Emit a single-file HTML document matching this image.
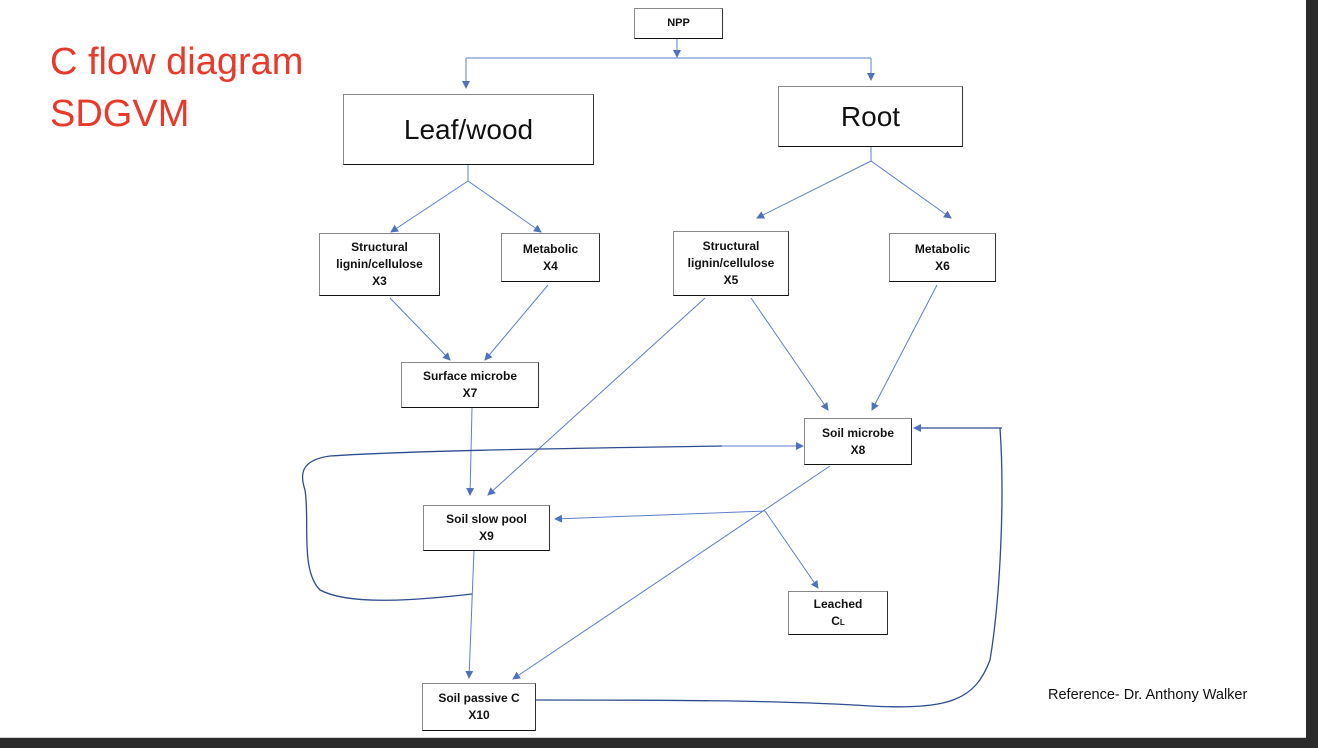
<!DOCTYPE html>
<html><head><meta charset="utf-8"><style>
html,body{margin:0;padding:0;}
body{width:1318px;height:748px;position:relative;background:#2b2b2b;overflow:hidden;font-family:"Liberation Sans",sans-serif;}
#pg{position:absolute;left:0;top:0;width:1306px;height:737px;background:#fff;border-bottom:1px solid #ccc;}
.b{position:absolute;box-sizing:border-box;border:1px solid #888;border-bottom:1.5px solid #111;border-right:1.5px solid #333;background:#fff;display:flex;align-items:center;justify-content:center;text-align:center;font-weight:bold;font-size:12px;line-height:17px;color:#111;}
.t{position:absolute;color:#e8392a;font-size:38px;line-height:50px;white-space:nowrap;}
</style></head><body>
<div id="pg">
<div class="t" style="left:50px;top:37px">C flow diagram</div>
<div class="t" style="left:50px;top:89px">SDGVM</div>
<svg width="1306" height="737" style="position:absolute;left:0;top:0">
<defs><marker id="a" markerWidth="8" markerHeight="8" refX="7" refY="4" orient="auto" markerUnits="userSpaceOnUse"><path d="M0,0 L8,4 L0,8 z" fill="#4f72c0"/></marker></defs>
<g stroke="#5b7fcb" stroke-width="1" fill="none" marker-end="url(#a)">
<line x1="677" y1="38" x2="677" y2="57"/>
<line x1="466" y1="58" x2="466" y2="88"/>
<line x1="871" y1="58" x2="871" y2="80"/>
<line x1="468" y1="181" x2="391" y2="232"/>
<line x1="468" y1="181" x2="541" y2="232"/>
<line x1="871" y1="161" x2="757" y2="218"/>
<line x1="871" y1="161" x2="951" y2="218"/>
<line x1="390" y1="298" x2="450" y2="360"/>
<line x1="548" y1="285" x2="485" y2="360"/>
<line x1="705" y1="298" x2="488" y2="495"/>
<line x1="751" y1="298" x2="828" y2="410"/>
<line x1="937" y1="285" x2="872" y2="410"/>
<line x1="472" y1="408" x2="470" y2="495"/>
<line x1="830" y1="466" x2="513" y2="679"/>
<line x1="765" y1="511" x2="555" y2="519"/>
<line x1="765" y1="511" x2="818" y2="588"/>
<line x1="474" y1="550" x2="469" y2="678"/>
<line x1="722" y1="446" x2="803" y2="446"/>
</g>
<g stroke="#5b7fcb" stroke-width="1" fill="none">
<line x1="466" y1="58" x2="871" y2="58"/>
<line x1="468" y1="165" x2="468" y2="181"/>
<line x1="871" y1="147" x2="871" y2="161"/>
</g>
<g stroke="#2f4b8f" stroke-width="1.3" fill="none">
<path d="M722,446 C600,448 420,450 330,456 C300,460 300,475 305,490 C310,520 300,570 320,590 C350,606 420,600 472,594"/>
<path d="M536,700 C650,700 780,700 870,706 C950,710 975,700 990,660 C1000,600 1005,500 1000,428"/>
</g>
<line x1="1002" y1="428" x2="914" y2="428" stroke="#2f4b8f" stroke-width="1.2" marker-end="url(#a)"/>
</svg>
<div class="b" style="left:634px;top:8px;width:89px;height:31px;font-size:11px">NPP</div>
<div class="b" style="left:343px;top:94px;width:251px;height:71px;font-size:28px;font-weight:normal">Leaf/wood</div>
<div class="b" style="left:778px;top:86px;width:185px;height:61px;font-size:28px;font-weight:normal">Root</div>
<div class="b" style="left:319px;top:233px;width:121px;height:63px">Structural<br>lignin/cellulose<br>X3</div>
<div class="b" style="left:501px;top:233px;width:99px;height:49px">Metabolic<br>X4</div>
<div class="b" style="left:673px;top:231px;width:116px;height:65px">Structural<br>lignin/cellulose<br>X5</div>
<div class="b" style="left:889px;top:233px;width:107px;height:49px">Metabolic<br>X6</div>
<div class="b" style="left:401px;top:362px;width:138px;height:46px">Surface microbe<br>X7</div>
<div class="b" style="left:804px;top:418px;width:108px;height:47px">Soil microbe<br>X8</div>
<div class="b" style="left:423px;top:505px;width:127px;height:46px">Soil slow pool<br>X9</div>
<div class="b" style="left:788px;top:591px;width:100px;height:44px"><div>Leached<br>C<span style="font-size:8px">L</span></div></div>
<div class="b" style="left:422px;top:683px;width:114px;height:48px">Soil passive C<br>X10</div>
<div style="position:absolute;left:1048px;top:687px;font-size:14.5px;color:#111;white-space:nowrap">Reference- Dr. Anthony Walker</div>
</div>
</body></html>
